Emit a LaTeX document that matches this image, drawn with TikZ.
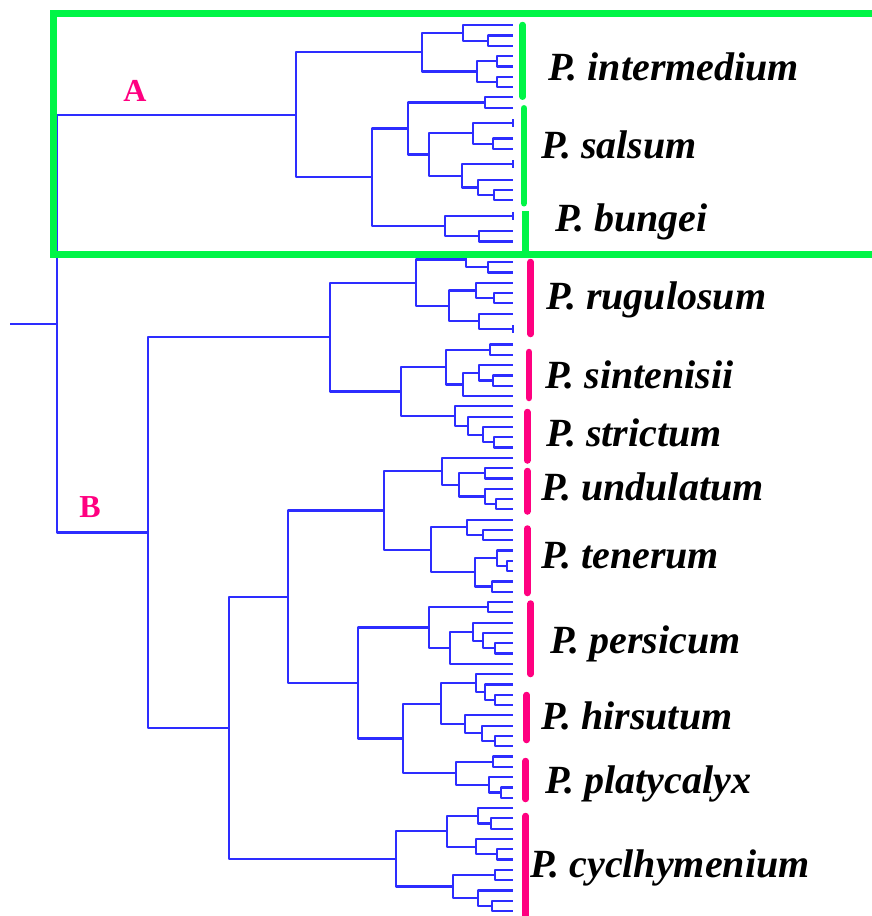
\documentclass[tikz,border=0pt]{standalone}
\usepackage{fontspec}
\setmainfont{Liberation Serif}
\usetikzlibrary{calc}

\definecolor{treeblue}{RGB}{45,45,255}
\definecolor{boxgreen}{RGB}{0,245,70}
\definecolor{cladepink}{RGB}{255,0,128}

\tikzset{
  branch/.style={draw=treeblue, line width=2.2pt, line join=round},
  groupbar/.style={line width=6.5pt, line cap=round},
  species/.style={anchor=base west, inner sep=0pt, text=black,
    font=\fontsize{40}{42}\selectfont\bfseries\itshape},
  cladename/.style={inner sep=0pt, text=cladepink,
    font=\fontsize{32}{34}\selectfont\bfseries},
}

% internal node: name, x position, first child, second child
\newcommand\clade[4]{%
  \path let \p1=($(#3)!0.5!(#4)$) in coordinate (#1) at (#2pt,\y1);
  \draw[branch] (#1) |- (#3) (#1) |- (#4);}
% pair of identical leaves shown as a short tick at the tip
\newcommand\tickleaf[3]{%
  \coordinate (#1) at ($(#2)!0.5!(#3)$);
  \draw[branch] ($(#1)+(0,-4)$) -- ($(#1)+(0,4)$);}

\begin{document}
\begin{tikzpicture}[x=1pt,y=-1pt]
\useasboundingbox (0,0) rectangle (871,916);

% leaf tips
\foreach \k in {0,...,86} \coordinate (s\k) at (513,{25.2+10.3*\k});

% ---------- clade A ----------
% P. intermedium
\clade{i1}{488}{s1}{s2}
\clade{i2}{463}{s0}{i1}
\clade{i3}{497}{s3}{s4}
\clade{i4}{497}{s5}{s6}
\clade{i5}{477}{i3}{i4}
\clade{int}{421.7}{i2}{i5}
% P. salsum
\clade{a1}{485}{s7}{s8}
\tickleaf{t1}{s9}{s10}
\clade{a2}{493}{s11}{s12}
\clade{a3}{472.7}{t1}{a2}
\tickleaf{t2}{s13}{s14}
\clade{a4}{494}{s16}{s17}
\clade{a5}{477.7}{s15}{a4}
\clade{a6}{461.7}{t2}{a5}
\clade{a7}{429}{a3}{a6}
\clade{a8}{408.3}{a1}{a7}
% P. bungei
\tickleaf{t3}{s18}{s19}
\clade{g1}{479.3}{s20}{s21}
\clade{g2}{445}{t3}{g1}
\clade{a9}{371.7}{a8}{g2}
\clade{ca}{296}{int}{a9}

% ---------- clade B ----------
% P. rugulosum
\clade{r1}{488.3}{s23}{s24}
\clade{r2}{466}{s22}{r1}
\clade{r3}{494.3}{s26}{s27}
\clade{r4}{476}{s25}{r3}
\tickleaf{t4}{s29}{s30}
\clade{r5}{479.3}{s28}{t4}
\clade{r6}{449.3}{r4}{r5}
\clade{rug}{415.7}{r2}{r6}
% P. sintenisii
\clade{n1}{490}{s31}{s32}
\clade{n2}{493.3}{s34}{s35}
\clade{n3}{479.3}{s33}{n2}
\clade{n4}{463.3}{n3}{s36}
\clade{n5}{445.7}{n1}{n4}
% P. strictum
\clade{c1}{494.3}{s40}{s41}
\clade{c2}{483.3}{s39}{c1}
\clade{c3}{468.3}{s38}{c2}
\clade{c4}{455}{s37}{c3}
\clade{n6}{400.7}{n5}{c4}
\clade{bu}{330}{rug}{n6}
% P. undulatum
\clade{u1}{485}{s43}{s44}
\clade{u2}{496}{s46}{s47}
\clade{u3}{485}{s45}{u2}
\clade{u4}{459.3}{u1}{u3}
\clade{u5}{441.7}{s42}{u4}
% P. tenerum
\clade{e1}{483.3}{s49}{s50}
\clade{e2}{466.7}{s48}{e1}
\clade{e3}{506.7}{s52}{s53}
\clade{e4}{496.7}{s51}{e3}
\clade{e5}{491.7}{s54}{s55}
\clade{e6}{475}{e4}{e5}
\clade{e7}{430.7}{e2}{e6}
\clade{ut}{384}{u5}{e7}
% P. persicum
\clade{p1}{487.7}{s56}{s57}
\clade{p2}{495}{s60}{s61}
\clade{p3}{483.3}{s59}{p2}
\clade{p4}{473.3}{s58}{p3}
\clade{p5}{450}{p4}{s62}
\clade{p6}{429}{p1}{p5}
% P. hirsutum
\clade{h1}{495}{s65}{s66}
\clade{h2}{485}{s64}{h1}
\clade{h3}{476}{s63}{h2}
\clade{h4}{495}{s69}{s70}
\clade{h5}{481.7}{s68}{h4}
\clade{h6}{465}{s67}{h5}
\clade{h7}{441}{h3}{h6}
% P. platycalyx
\clade{y1}{493.3}{s71}{s72}
\clade{y2}{500.7}{s74}{s75}
\clade{y3}{489.3}{s73}{y2}
\clade{y4}{456}{y1}{y3}
\clade{hp}{403.3}{h7}{y4}
\clade{php}{357.7}{p6}{hp}
\clade{mid}{288.3}{ut}{php}
% P. cyclhymenium
\clade{k1}{490.7}{s77}{s78}
\clade{k2}{478.3}{s76}{k1}
\clade{k3}{496.7}{s80}{s81}
\clade{k4}{476}{s79}{k3}
\clade{k5}{446.7}{k2}{k4}
\clade{k6}{495}{s82}{s83}
\clade{k7}{491.7}{s85}{s86}
\clade{k8}{478.3}{s84}{k7}
\clade{k9}{452.7}{k6}{k8}
\clade{cyc}{396}{k5}{k9}
\clade{bl}{229.3}{mid}{cyc}
\clade{cb}{147.7}{bu}{bl}

% root and its stem
\clade{root}{57.3}{ca}{cb}
\path let \p1=(root) in coordinate (stem) at (10pt,\y1);
\draw[branch] (stem) -- (root);

% box around clade A (its right side runs off the page) and the group bars
\draw[boxgreen, line width=7pt] (53,13.7) rectangle (880,254);
\draw[groupbar, boxgreen] (522.7,25) -- (522.7,96.7);
\draw[groupbar, boxgreen] (524,108.3) -- (524,203.3);
\draw[groupbar, boxgreen, line cap=butt] (525.7,211) -- (525.7,252);
\draw[groupbar, cladepink] (530.7,262) -- (530.7,334);
\draw[groupbar, cladepink] (529,352) -- (529,398);
\draw[groupbar, cladepink] (527.3,412) -- (527.3,460.5);
\draw[groupbar, cladepink] (527.3,471) -- (527.3,511.5);
\draw[groupbar, cladepink] (527.3,528.5) -- (527.3,593);
\draw[groupbar, cladepink] (530.7,603.5) -- (530.7,674);
\draw[groupbar, cladepink] (526.7,695) -- (526.7,740);
\draw[groupbar, cladepink] (525.7,761) -- (525.7,799);
\draw[groupbar, cladepink] (525.7,816) -- (525.7,920);

% clade letters
\node[cladename] (labA) at (135,91) {A};
\node[cladename] (labB) at (90,507) {B};

% species names
\node[species] (nInt) at (548.3,80) {P. intermedium};
\node[species] (nSal) at (541.7,158.3) {P. salsum};
\node[species] (nBun) at (555,231.7) {P. bungei};
\node[species] (nRug) at (546.7,309.3) {P. rugulosum};
\node[species] (nSin) at (545,388.3) {P. sintenisii};
\node[species] (nStr) at (546.7,446) {P. strictum};
\node[species] (nUnd) at (541.7,500) {P. undulatum};
\node[species] (nTen) at (541.7,568.3) {P. tenerum};
\node[species] (nPer) at (550,653.3) {P. persicum};
\node[species] (nHir) at (541.7,729.3) {P. hirsutum};
\node[species] (nPla) at (545,793.3) {P. platycalyx};
\node[species] (nCyc) at (530,877.3) {P. cyclhymenium};
\end{tikzpicture}
\end{document}
